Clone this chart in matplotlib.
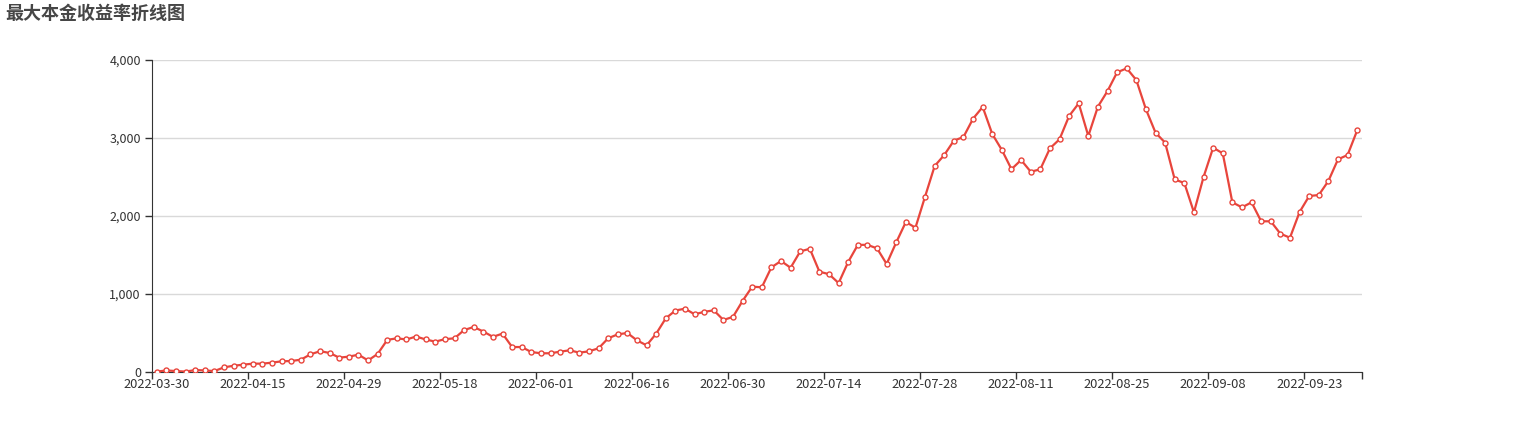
import matplotlib
matplotlib.use("Agg")
import matplotlib.pyplot as plt
import pandas as pd
from matplotlib.ticker import FuncFormatter, FixedLocator

plt.rcParams['font.family'] = ['Noto Sans CJK SC', 'DejaVu Sans']

# trading days (A-share calendar, holidays removed)
holidays = ['2022-04-04', '2022-04-05', '2022-05-02', '2022-05-03', '2022-05-04',
            '2022-06-03', '2022-09-12']
dates = [d.strftime('%Y-%m-%d') for d in
         pd.bdate_range('2022-03-30', '2022-09-30', freq='C', holidays=holidays)]

returns = [5, 20, 12, 5, 25, 20, 12, 60, 80, 94,
           107, 107, 120, 137, 141, 158, 226, 267, 244, 184,
           197, 222, 148, 232, 412, 432, 417, 455, 417, 389,
           421, 432, 538, 577, 519, 451, 492, 320, 320, 256,
           240, 240, 261, 278, 248, 265, 304, 432, 483, 500,
           406, 342, 491, 688, 788, 812, 740, 771, 791, 667,
           707, 912, 1094, 1086, 1342, 1423, 1337, 1546, 1580, 1286,
           1254, 1140, 1412, 1630, 1630, 1585, 1385, 1662, 1923, 1850,
           2248, 2641, 2782, 2966, 3013, 3248, 3398, 3051, 2846, 2600,
           2718, 2568, 2598, 2867, 2983, 3282, 3444, 3026, 3402, 3602,
           3842, 3893, 3743, 3368, 3068, 2940, 2468, 2423, 2047, 2500,
           2876, 2803, 2175, 2111, 2175, 1932, 1932, 1773, 1722, 2051,
           2256, 2269, 2449, 2726, 2782, 3098]

y_ticks = [0, 1000, 2000, 3000, 4000]
label_every = 10

n = len(dates)
x = list(range(n))

fig = plt.figure(figsize=(15.14, 4.32), dpi=100)
ax = fig.add_axes([152 / 1514, 60 / 432, 1210 / 1514, 312 / 432])

ax.plot(x, returns, color='#e8453c', lw=1.6, marker='o', markersize=3.6,
        markerfacecolor='white', markeredgecolor='#e8453c', markeredgewidth=1.0,
        zorder=3)

ax.set_xlim(-0.5, n - 0.5)
ax.set_ylim(0, 4000)

# y axis
ax.set_yticks(y_ticks)
ax.yaxis.set_major_formatter(FuncFormatter(lambda v, p: f'{int(v):,}'))
ax.grid(axis='y', color='#d9d9d9', lw=1)
ax.set_axisbelow(True)
ax.tick_params(axis='y', length=5, width=1, color='#333333', labelsize=9,
               labelcolor='#333333', pad=3)

# x axis: ticks on band boundaries, labels on band centres
bounds = [i - 0.5 for i in range(0, n, label_every)] + [n - 0.5]
ax.xaxis.set_major_locator(FixedLocator(bounds))
ax.set_xticklabels([''] * len(bounds))
centres = list(range(0, n, label_every))
ax.xaxis.set_minor_locator(FixedLocator(centres))
ax.set_xticklabels([dates[i] for i in centres], minor=True)
ax.tick_params(axis='x', which='major', length=5, width=1, color='#333333')
ax.tick_params(axis='x', which='minor', length=0, labelsize=9.3,
               labelcolor='#333333', pad=4)

for s in ['top', 'right']:
    ax.spines[s].set_visible(False)
ax.spines['left'].set_color('#333333')
ax.spines['bottom'].set_color('#333333')

fig.text(5 / 1514, 1 - 13 / 432, '最大本金收益率折线图', fontsize=13,
         fontweight='bold', color='#464646', ha='left', va='center')

fig.savefig('out.png', dpi=100)
